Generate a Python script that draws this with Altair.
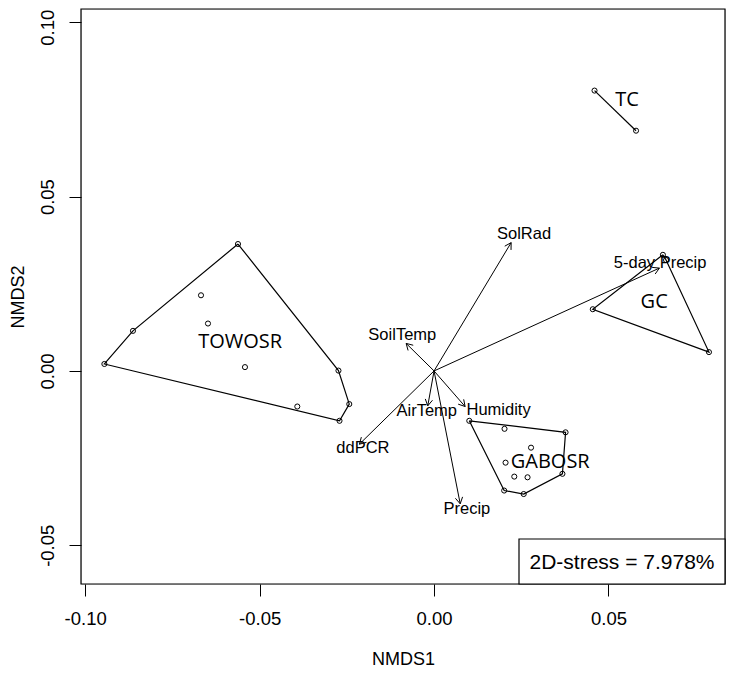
import altair as alt
import pandas as pd
import numpy as np

# ---- site scores (NMDS1, NMDS2) by group ----
tow_x = [-0.0562, -0.0863, -0.0945, -0.0274, -0.0243, -0.0271, -0.0392, -0.0668, -0.0648, -0.0542]
tow_y = [0.0364, 0.0115, 0.0020, 0.0001, -0.0095, -0.0143, -0.0102, 0.0217, 0.0136, 0.0011]
gab_x = [0.0101, 0.0377, 0.0368, 0.0257, 0.0201, 0.0202, 0.0278, 0.0205, 0.0230, 0.0268]
gab_y = [-0.0143, -0.0176, -0.0295, -0.0353, -0.0343, -0.0166, -0.0220, -0.0263, -0.0303, -0.0305]
gc_x = [0.0656, 0.0665, 0.0455, 0.0788]
gc_y = [0.0333, 0.0318, 0.0177, 0.0054]
tc_x = [0.0460, 0.0579]
tc_y = [0.0804, 0.0689]

# hull vertex order (indices into each group's points)
tow_hull = [0, 3, 4, 5, 2, 1]
gab_hull = [0, 1, 2, 3, 4]
gc_hull = [0, 1, 3, 2]
tc_hull = [0, 1]

# group label positions
grp_names = ["TOWOSR", "GABOSR", "GC", "TC"]
grp_lab_x = [-0.0556, 0.0333, 0.0631, 0.0553]
grp_lab_y = [0.0084, -0.0260, 0.0199, 0.0777]

# ---- environmental vectors ----
env_names = ["SolRad", "5-day Precip", "SoilTemp", "AirTemp", "Humidity", "ddPCR", "Precip"]
env_x = [0.0221, 0.0646, -0.0080, -0.0018, 0.0089, -0.0214, 0.0075]
env_y = [0.0368, 0.0295, 0.0079, -0.0100, -0.0102, -0.0210, -0.0381]
env_lab_x = [0.0258, 0.0648, -0.0091, -0.0021, 0.0185, -0.0204, 0.0094]
env_lab_y = [0.0392, 0.0309, 0.0103, -0.0114, -0.0112, -0.0222, -0.0397]

stress_text = "2D-stress = 7.978%"

X_DOM = [-0.1012, 0.0834]
Y_DOM = [-0.0611, 0.1038]
W, H = 644, 575

# ---- build tables ----
groups = {
    "TOWOSR": (tow_x, tow_y, tow_hull),
    "GABOSR": (gab_x, gab_y, gab_hull),
    "GC": (gc_x, gc_y, gc_hull),
    "TC": (tc_x, tc_y, tc_hull),
}
pts_rows, hull_rows = [], []
for g, (xs, ys, hull) in groups.items():
    for x, y in zip(xs, ys):
        pts_rows.append({"group": g, "x": x, "y": y})
    seq = hull + ([hull[0]] if len(hull) > 2 else [])
    for k, i in enumerate(seq):
        hull_rows.append({"group": g, "ord": k, "x": xs[i], "y": ys[i]})
pts = pd.DataFrame(pts_rows)
hulls = pd.DataFrame(hull_rows)

grp_lab = pd.DataFrame({"name": grp_names, "x": grp_lab_x, "y": grp_lab_y})

arr = pd.DataFrame({"name": env_names, "x0": 0.0, "y0": 0.0, "x": env_x, "y": env_y})
L = 0.0021
heads = []
for n, x, y in zip(env_names, env_x, env_y):
    th = np.arctan2(y, x)
    for s in (1, -1):
        a = th + s * np.pi / 6
        heads.append({"name": n, "x": x, "y": y, "hx": x - L * np.cos(a), "hy": y - L * np.sin(a)})
heads = pd.DataFrame(heads)
env_lab = pd.DataFrame({"name": env_names, "x": env_lab_x, "y": env_lab_y})

FONT = "Liberation Sans"
minus_fix = "replace(format(datum.value, '.2f'), '\u2212', '-')"

xs = alt.Scale(domain=X_DOM, nice=False, zero=False)
ys = alt.Scale(domain=Y_DOM, nice=False, zero=False)

x_axis = alt.Axis(values=[-0.10, -0.05, 0.0, 0.05], labelExpr=minus_fix, grid=False, domain=False,
                  tickSize=12, tickColor="black", labelColor="black", labelFont=FONT, labelFontSize=18.5,
                  labelPadding=13, title="NMDS1", titleFont=FONT, titleFontSize=18, titleFontWeight="normal",
                  titleColor="black", titlePadding=23)
y_axis = alt.Axis(values=[-0.05, 0.0, 0.05, 0.10], labelExpr=minus_fix, grid=False, domain=False,
                  tickSize=12, tickColor="black", labelColor="black", labelFont=FONT, labelFontSize=18.5,
                  labelAngle=270, labelAlign="center", labelBaseline="bottom", labelPadding=12,
                  labelOffset={"condition": {"test": "datum.value > 0.09", "value": 5}, "value": 0},
                  title="NMDS2", titleFont=FONT, titleFontSize=18, titleFontWeight="normal",
                  titleColor="black", titlePadding=11)

X = alt.X("x:Q", scale=xs, axis=x_axis)
Y = alt.Y("y:Q", scale=ys, axis=y_axis)

hull_layer = alt.Chart(hulls).mark_line(color="black", strokeWidth=1.2).encode(
    x=X, y=Y, detail="group:N", order="ord:Q")
pt_layer = alt.Chart(pts).mark_point(shape="circle", filled=False, size=26, color="black", strokeWidth=1,
                                     opacity=1).encode(x=X, y=Y)
arrow_layer = alt.Chart(arr).mark_rule(color="black", strokeWidth=1).encode(
    x="x0:Q", y="y0:Q", x2="x:Q", y2="y:Q")
head_layer = alt.Chart(heads).mark_rule(color="black", strokeWidth=1).encode(
    x="x:Q", y="y:Q", x2="hx:Q", y2="hy:Q")
env_text = alt.Chart(env_lab).mark_text(font=FONT, fontSize=16.5, color="black", align="center",
                                        baseline="middle").encode(x="x:Q", y="y:Q", text="name:N")
grp_text = alt.Chart(grp_lab).mark_text(font="Open Sans", fontSize=20, color="black", align="center",
                                        baseline="middle").encode(x="x:Q", y="y:Q", text="name:N")

stress_df = pd.DataFrame({"t": [stress_text]})
frame = alt.Chart(stress_df).mark_rect(filled=False, stroke="black", strokeWidth=1.2).encode(
    x=alt.value(0), x2=alt.value(W), y=alt.value(0), y2=alt.value(H))
stress_box = alt.Chart(stress_df).mark_rect(fill="white", stroke="black", strokeWidth=1.2).encode(
    x=alt.value(438), x2=alt.value(W), y=alt.value(530), y2=alt.value(H))
stress_lab = alt.Chart(stress_df).mark_text(font=FONT, fontSize=21, color="black", align="center",
                                            baseline="middle").encode(
    x=alt.value((438 + W) / 2), y=alt.value((530 + H) / 2 + 1), text="t:N")

chart = alt.layer(hull_layer, pt_layer, arrow_layer, head_layer, env_text, grp_text, frame,
                  stress_box, stress_lab).properties(
    width=W, height=H,
    autosize=alt.AutoSizeParams(type="none"),
    padding={"left": 73, "top": 1, "right": 1, "bottom": 85},
).configure_view(strokeWidth=0).configure(background="white")

chart.save("out.html", embed_options={"renderer": "svg", "actions": False})
